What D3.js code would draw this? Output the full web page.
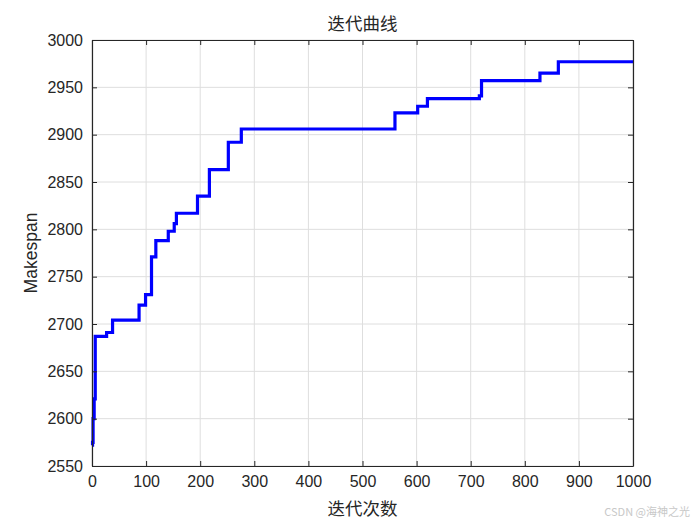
<!DOCTYPE html>
<html>
<head>
<meta charset="utf-8">
<script src="https://cdn.jsdelivr.net/npm/d3@7"></script>
<style>
  body { margin: 0; background: #fff; }
  svg { display: block; }
</style>
</head>
<body>
<div id="vis"></div>
<script>
const WIDTH = 700;
const HEIGHT = 525;

// iteracion donde empieza cada escalon y su valor
const iterStart = [0, 1, 2, 4, 6, 27, 38, 87, 99, 110, 118, 141, 152, 156, 195, 217, 252, 276, 560, 602, 620, 716, 720, 828, 862];
const makespan = [2572, 2575, 2600, 2621, 2687, 2691, 2704, 2720, 2731, 2771, 2788, 2798, 2806, 2817, 2835, 2863, 2892, 2906, 2923, 2930, 2938, 2941, 2957, 2965, 2977];
const lastIter = 1000;

const xTicks = [0, 100, 200, 300, 400, 500, 600, 700, 800, 900, 1000];
const yTicks = [2550, 2600, 2650, 2700, 2750, 2800, 2850, 2900, 2950, 3000];

const M = { left: 92, right: 633, top: 40, bottom: 466 };

const SVG = d3.select("#vis").append("svg")
  .attr("width", WIDTH)
  .attr("height", HEIGHT);

const x = d3.scaleLinear().domain([0, 1000]).range([M.left, M.right]);
const y = d3.scaleLinear().domain([2550, 3000]).range([M.bottom, M.top]);

// grilla
SVG.append("g")
  .selectAll("line.vgrid")
  .data(xTicks)
  .join("line")
  .attr("x1", d => x(d)).attr("x2", d => x(d))
  .attr("y1", M.top).attr("y2", M.bottom)
  .attr("stroke", "#dedede").attr("stroke-width", 1);

SVG.append("g")
  .selectAll("line.hgrid")
  .data(yTicks)
  .join("line")
  .attr("x1", M.left).attr("x2", M.right)
  .attr("y1", d => y(d)).attr("y2", d => y(d))
  .attr("stroke", "#dedede").attr("stroke-width", 1);

// curva escalonada
const puntos = iterStart.map((it, i) => [it, makespan[i]]);
puntos.push([lastIter, makespan[makespan.length - 1]]);

const linea = d3.line()
  .x(d => x(d[0]))
  .y(d => y(d[1]))
  .curve(d3.curveStepAfter);

SVG.append("path")
  .datum(puntos)
  .attr("d", linea)
  .attr("fill", "none")
  .attr("stroke", "#0000ff")
  .attr("stroke-width", 3.2)
  .attr("stroke-linejoin", "miter");

// ejes (ticks hacia adentro, caja completa)
const font = "'Liberation Sans', Arial, sans-serif";
const fmt = d3.format("d");

const axB = SVG.append("g").attr("transform", `translate(0,${M.bottom})`)
  .call(d3.axisBottom(x).tickValues(xTicks).tickFormat(fmt).tickSizeInner(-5).tickSizeOuter(0).tickPadding(10));
const axT = SVG.append("g").attr("transform", `translate(0,${M.top})`)
  .call(d3.axisTop(x).tickValues(xTicks).tickSizeInner(-5).tickSizeOuter(0).tickFormat(""));
const axL = SVG.append("g").attr("transform", `translate(${M.left},0)`)
  .call(d3.axisLeft(y).tickValues(yTicks).tickFormat(fmt).tickSizeInner(-5).tickSizeOuter(0).tickPadding(9));
const axR = SVG.append("g").attr("transform", `translate(${M.right},0)`)
  .call(d3.axisRight(y).tickValues(yTicks).tickSizeInner(-5).tickSizeOuter(0).tickFormat(""));

[axB, axT, axL, axR].forEach(a => {
  a.select(".domain").attr("stroke", "#262626").attr("stroke-width", 1.2);
  a.selectAll(".tick line").attr("stroke", "#262626");
  a.selectAll("text")
    .style("font-family", font)
    .style("font-size", "16px")
    .attr("fill", "#262626");
});

// textos
SVG.append("text")
  .attr("x", (M.left + M.right) / 2)
  .attr("y", 30)
  .attr("text-anchor", "middle")
  .style("font-family", "'Noto Sans CJK SC', sans-serif")
  .style("font-size", "17.5px")
  .attr("fill", "#262626")
  .text("迭代曲线");

SVG.append("text")
  .attr("x", (M.left + M.right) / 2)
  .attr("y", 515)
  .attr("text-anchor", "middle")
  .style("font-family", "'Noto Sans CJK SC', sans-serif")
  .style("font-size", "17.5px")
  .attr("fill", "#262626")
  .text("迭代次数");

SVG.append("text")
  .attr("transform", `translate(37,${(M.top + M.bottom) / 2}) rotate(-90)`)
  .attr("text-anchor", "middle")
  .style("font-family", font)
  .style("font-size", "17.5px")
  .attr("fill", "#262626")
  .text("Makespan");

SVG.append("text")
  .attr("x", 690)
  .attr("y", 516)
  .attr("text-anchor", "end")
  .style("font-family", "'Noto Sans CJK SC', sans-serif")
  .style("font-size", "11px")
  .attr("fill", "#c8c8c8")
  .text("CSDN @海神之光");
</script>
</body>
</html>
